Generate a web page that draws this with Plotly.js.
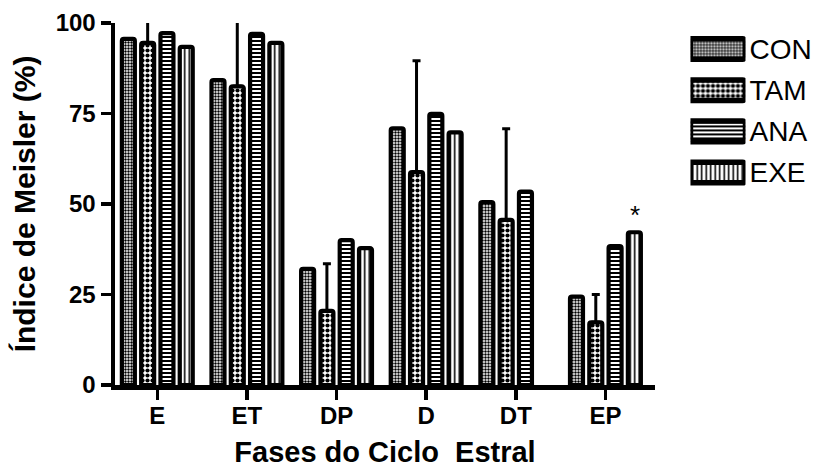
<!DOCTYPE html>
<html><head><meta charset="utf-8">
<script src="https://cdn.plot.ly/plotly-3.0.1.min.js"></script>
<style>body{margin:0;background:#fff}#chart{width:819px;height:468px}</style>
</head><body><div id="chart"></div>
<script>
const phases = ["E", "ET", "DP", "D", "DT", "EP"];
const groups = ["CON", "TAM", "ANA", "EXE"];
const conValues = [95.6, 84.2, 32.1, 70.9, 50.5, 24.4];
const tamValues = [94.5, 82.5, 20.5, 58.8, 45.6, 17.3];
const anaValues = [97.2, 97.0, 40.0, 74.9, 53.4, 38.4];
const exeValues = [93.4, 94.5, 37.8, 69.8, null, 42.2];
const tamErrorUp = [8, 25, 13, 30.8, 25.2, 7.7];
const yTicks = [0, 25, 50, 75, 100];
const starPhase = "EP";
const starGroup = "EXE";
const starText = "*";

const FONT = "Liberation Sans, Arial, Helvetica, sans-serif";
const patterns = {
  CON: {shape: ".", size: 3, solidity: 0.5},
  TAM: {shape: ".", size: 5, solidity: 0.55},
  ANA: {shape: "-", size: 4, solidity: 0.5},
  EXE: {shape: "|", size: 4.5, solidity: 0.35}
};
const seriesValues = {CON: conValues, TAM: tamValues, ANA: anaValues, EXE: exeValues};
const BARGAP = 0.139, GROUPGAP = 0.327;

const traces = groups.map(g => {
  const t = {
    type: "bar", name: g, x: phases, y: seriesValues[g],
    marker: {color: "white", cornerradius: 2,
      line: {color: "black", width: 4.2},
      pattern: Object.assign({fgcolor: "black", bgcolor: "white", fillmode: "replace"}, patterns[g])},
    showlegend: false, hoverinfo: "skip"
  };
  if (g === "TAM") {
    t.error_y = {type: "data", symmetric: false, array: tamErrorUp,
      arrayminus: tamErrorUp.map(() => 0), color: "black", thickness: 3, width: 4};
  }
  return t;
});

// legend drawn as a small bar chart of the group names
traces.push({
  type: "bar", orientation: "h", x: groups.map(() => 1), y: groups,
  xaxis: "x2", yaxis: "y2", width: 0.5, cliponaxis: false,
  marker: {color: "white", cornerradius: 3, line: {color: "black", width: 5.5},
    pattern: {fgcolor: "black", bgcolor: "white", fillmode: "replace",
      shape: groups.map(g => patterns[g].shape),
      size: groups.map(g => patterns[g].size),
      solidity: groups.map(g => patterns[g].solidity)}},
  showlegend: false, hoverinfo: "skip"
});

const layout = {
  width: 819, height: 468,
  margin: {l: 115, r: 59, t: 23, b: 83, pad: 0},
  paper_bgcolor: "white", plot_bgcolor: "white",
  font: {family: FONT, color: "black"},
  barmode: "group", bargap: BARGAP, bargroupgap: GROUPGAP,
  showlegend: false,
  xaxis: {
    domain: [0, 0.8372], type: "category", range: [-0.472, 5.553],
    showline: true, linewidth: 4.5, linecolor: "black",
    ticks: "outside", ticklen: 10, tickwidth: 3.5, tickcolor: "black",
    tickfont: {family: FONT, size: 24, weight: "bold", color: "black"},
    ticklabelstandoff: -4,
    showgrid: false, zeroline: false, fixedrange: true,
    title: {text: "Fases do Ciclo\u00a0 Estral", standoff: 18,
      font: {family: FONT, size: 29, weight: "bold", color: "black"}}
  },
  yaxis: {
    domain: [0, 1], range: [0, 100], tickvals: yTicks, ticktext: yTicks.map(String),
    showline: true, linewidth: 4.5, linecolor: "black",
    ticks: "outside", ticklen: 10, tickwidth: 3.5, tickcolor: "black",
    tickfont: {family: FONT, size: 24, weight: "bold", color: "black"},
    showgrid: false, zeroline: false, fixedrange: true,
    title: {text: "Índice de Meisler (%)", standoff: 12,
      font: {family: FONT, size: 30, weight: "bold", color: "black"}}
  },
  xaxis2: {domain: [0.8922, 0.9775], range: [0, 1], anchor: "y2", visible: false, fixedrange: true},
  yaxis2: {domain: [0.530, 0.985], anchor: "x2", type: "category", range: [3.5, -0.5],
    side: "right", showline: false, ticks: "", showgrid: false, zeroline: false,
    tickfont: {family: FONT, size: 28, color: "black"}, ticklabelstandoff: 3, fixedrange: true},
  annotations: [{
    xref: "x", yref: "y",
    x: phases.indexOf(starPhase) + (groups.indexOf(starGroup) - 1.5) * (1 - BARGAP) / groups.length,
    y: seriesValues[starGroup][phases.indexOf(starPhase)],
    text: starText, showarrow: false, yanchor: "bottom", yshift: 0, xshift: 1,
    font: {family: FONT, size: 26, color: "black"}
  }]
};

Plotly.newPlot("chart", traces, layout, {displayModeBar: false, staticPlot: true});
</script>
</body></html>
